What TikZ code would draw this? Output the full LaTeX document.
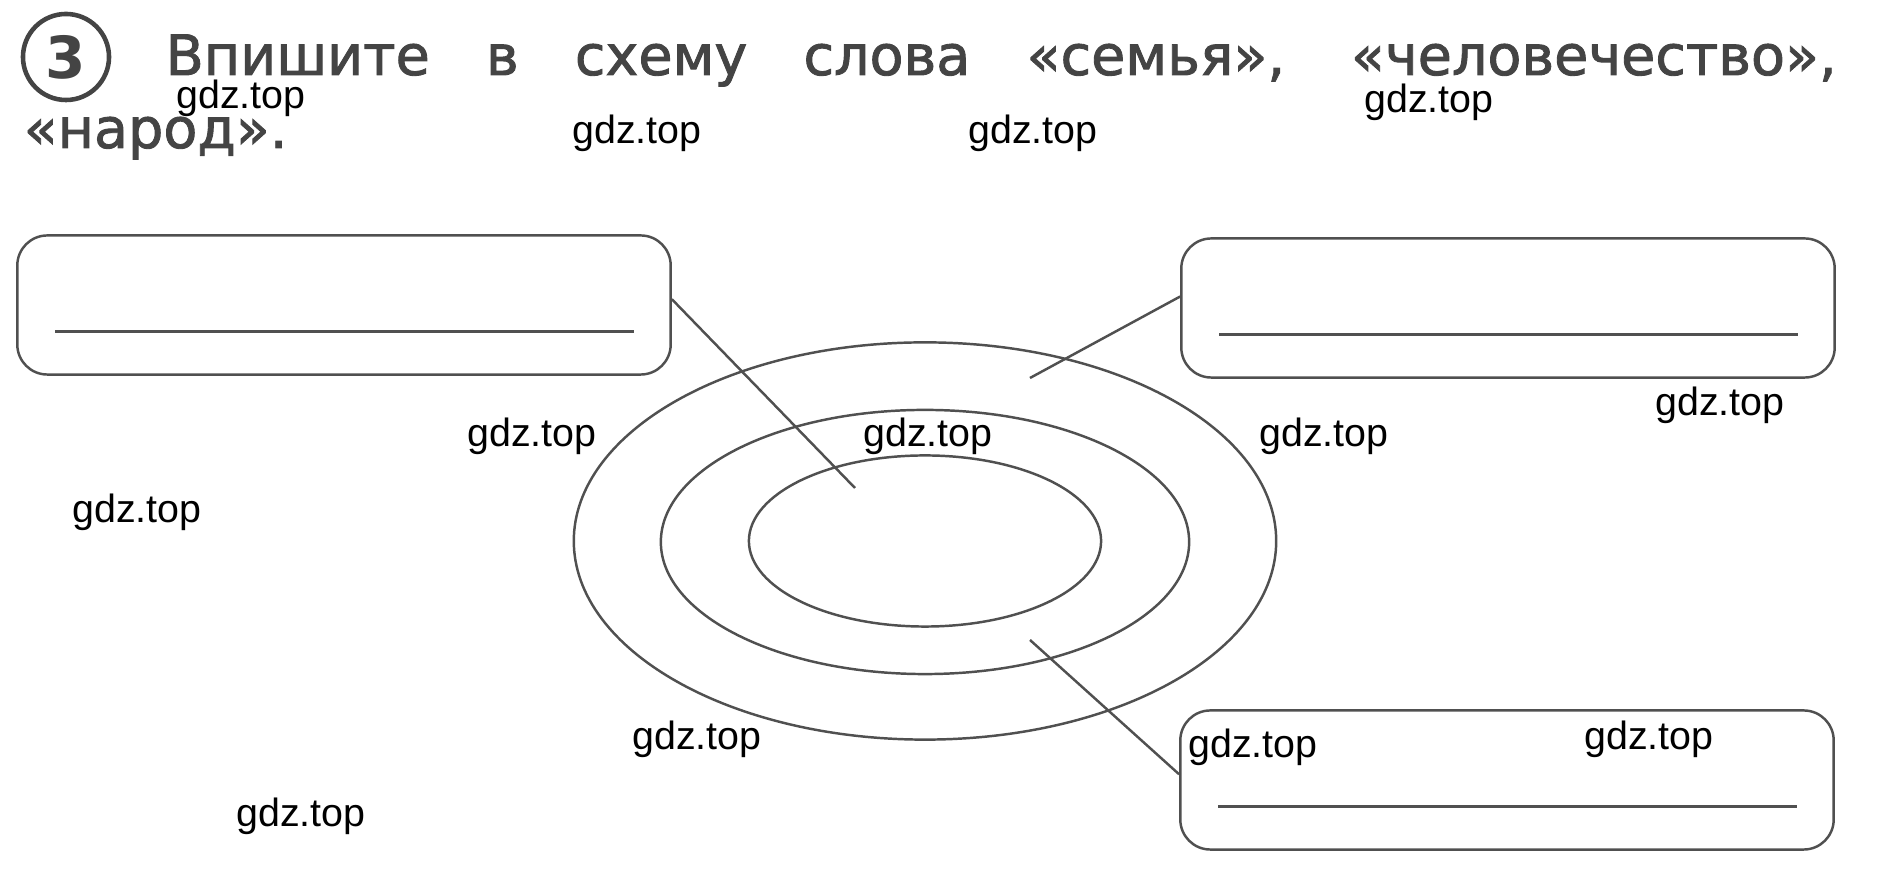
\documentclass[tikz,border=0pt]{standalone}
\usepackage{fontspec}
\setmainfont{DejaVu Sans}
\newfontfamily\titlefont[FakeBold=1.6]{DejaVu Sans}
\newfontfamily\wmfont{Liberation Sans}
\usetikzlibrary{positioning,shapes.geometric}

\definecolor{inkgray}{RGB}{68,68,68}
\definecolor{linegray}{RGB}{80,80,80}

\tikzset{
  titletext/.style={inner sep=0pt, text=inkgray, font=\titlefont\fontsize{15.8}{18}\selectfont},
  numcircle/.style={circle, draw=inkgray, line width=1.3pt, minimum size=0.86cm, inner sep=0pt,
    text=inkgray, font=\bfseries\fontsize{16.5}{16}\selectfont},
  answerbox/.style={draw=linegray, line width=0.7pt, rounded corners=0.3cm, inner sep=0pt,
    minimum width=6.53cm, minimum height=1.39cm,
    path picture={\draw[linegray, line width=0.7pt]
      ([shift={(38,-43)}]path picture bounding box.south west) --
      ([shift={(-37,-43)}]path picture bounding box.south east);}},
  ring/.style={ellipse, draw=linegray, line width=0.7pt, inner sep=0pt},
  wmark/.style={anchor=base, inner sep=0pt, font=\wmfont\fontsize{11.2}{13}\selectfont}
}

\begin{document}
\begin{tikzpicture}[x=0.01cm, y=-0.01cm]
    \useasboundingbox (0,0) rectangle (1893,877);
    % task heading
    \node[numcircle] (num) at (66,57) {3};
    \node[titletext, anchor=base west] (line1) at (165,75)
      {\makebox[16.70cm][s]{Впишите в схему слова «семья», «человечество»,}};
    \node[titletext, anchor=base west] (line2) at (23,148) {«народ».};
    % rings
    \node[ring, minimum width=7.02cm, minimum height=3.97cm] (outerRing) at (925,541) {};
    \node[ring, minimum width=5.28cm, minimum height=2.64cm] (midRing) at (925,542) {};
    \node[ring, minimum width=3.52cm, minimum height=1.71cm] (innerRing) at (925,541) {};
    % boxes to fill in
    \node[answerbox] (innerBox) at (344,305) {};
    \node[answerbox] (outerBox) at (1508,308) {};
    \node[answerbox] (midBox) at (1507,780) {};
    \coordinate (innerPt) at (855,488);
    \coordinate (outerPt) at (1030,378);
    \coordinate (midPt) at (1030,640);
    \draw[linegray, line width=0.7pt] (innerBox.1) -- (innerPt);
    \draw[linegray, line width=0.7pt] (outerBox.178) -- (outerPt);
    \draw[linegray, line width=0.7pt] (midBox.179) -- (midPt);
    % watermarks
    \node[wmark] (wm1) at (241,109) {gdz.top};
    \node[wmark] (wm2) at (637,144) {gdz.top};
    \node[wmark] (wm3) at (1033,144) {gdz.top};
    \node[wmark] (wm4) at (1429,113) {gdz.top};
    \node[wmark] (wm5) at (1720,416) {gdz.top};
    \node[wmark] (wm6) at (532,447) {gdz.top};
    \node[wmark] (wm7) at (928,447) {gdz.top};
    \node[wmark] (wm8) at (1324,447) {gdz.top};
    \node[wmark] (wm9) at (137,523) {gdz.top};
    \node[wmark] (wm10) at (697,750) {gdz.top};
    \node[wmark] (wm11) at (1253,758) {gdz.top};
    \node[wmark] (wm12) at (1649,750) {gdz.top};
    \node[wmark] (wm13) at (301,827) {gdz.top};
\end{tikzpicture}
\end{document}
